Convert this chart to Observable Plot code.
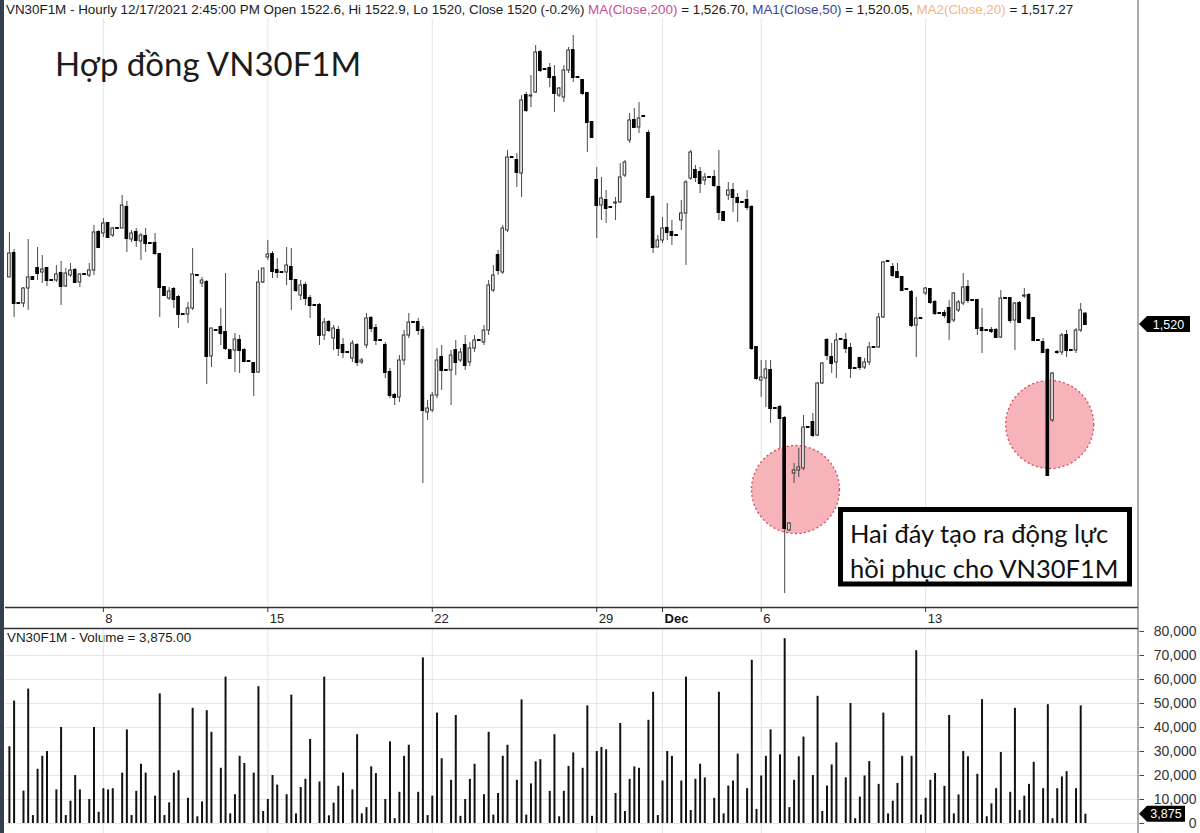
<!DOCTYPE html>
<html>
<head>
<meta charset="utf-8">
<script src="https://cdn.jsdelivr.net/npm/d3@7"></script>
<script src="https://cdn.jsdelivr.net/npm/@observablehq/plot@0.6"></script>
<style>
  html, body { margin: 0; padding: 0; background: #fff; }
  #chart { position: relative; width: 1200px; height: 833px; overflow: hidden; background: #fff;
           font-family: "Liberation Sans", Arial, sans-serif; color: #1a1a1a; }
  #chart > * { position: absolute; }
  #edge { left: 0; top: 0; width: 4px; height: 833px; background: #34404e; }
  #header { left: 6px; top: 1px; font-size: 13.4px; line-height: 17px; white-space: nowrap; }
  #volLabel { left: 7px; top: 630px; font-size: 13.4px; line-height: 16px; white-space: nowrap; }
  svg { overflow: visible; }
</style>
</head>
<body>
<div id="chart">
  <div id="header">VN30F1M - Hourly 12/17/2021 2:45:00 PM Open 1522.6, Hi 1522.9, Lo 1520, Close 1520 (-0.2%) <span style="color:#cc4b97">MA(Close,200)</span> = 1,526.70, <span style="color:#3b3f98">MA1(Close,50)</span> = 1,520.05, <span style="color:#f3b585">MA2(Close,20)</span> = 1,517.27</div>
  <div id="volLabel">VN30F1M - Volume = 3,875.00</div>
</div>
<script>
// Hourly bars, Nov 3 – Dec 17 2021; 7 hourly slots per trading day (12h slot has no trades)
const open = [1531.75,1537.75,1525.25,1525.25,1529,1531.75,1534,1533,1534,1531,1531,1532.75,1529.5,1532.25,1533.5,1530.5,1532.5,1532.25,1533.5,1543,
1542.75,1545.25,1542.25,1544,1544,1549.25,1541.25,1543,1540.75,1542,1540.25,1540.25,1537.5,1529.25,1526.5,1528.75,1526.75,1522.5,1522.5,1524,
1532.25,1530.25,1530.5,1512,1518.5,1519.25,1518,1513.5,1513.5,1516,1513.5,1510.75,1510.25,1508,1530.5,1536.75,1537.5,1533.5,1533,1533,
1534.25,1531,1527.25,1529.75,1526.5,1524.75,1524.75,1517.25,1520.5,1516.5,1518.5,1514.75,1513,1511.5,1514.75,1510.5,1514.75,1521.5,1519,1516,
1514.75,1508,1502.25,1501.75,1511,1517.25,1520.5,1520.5,1518.5,1498,1498.5,1502.25,1511.75,1508.5,1508.5,1513.5,1511,1514.75,1510.5,1514,
1516,1515.5,1518.5,1528.5,1537.25,1533,1543.5,1561.75,1561,1557.75,1577.25,1577,1578,1588,1583.75,1584,1581.75,1577.25,1576.75,1583.5,
1588.5,1581.75,1581,1577.75,1570.5,1556,1549.75,1551,1549.25,1550.25,1550.5,1557.25,1566,1571,1569.25,1572,1567.75,1551.75,1539.25,1541,
1544,1543,1542.25,1546,1547.75,1556.5,1558.5,1558,1556,1556.75,1556.75,1554.25,1548,1552.25,1553.5,1551.5,1550.5,1551,1549.25,1514.25,
1506,1506.5,1508.5,1499,1499.25,1496.5,1468.5,1482.75,1483.5,1484,1494.25,1495.5,1492.25,1505.25,1516,1511.75,1510.5,1516.25,1516,1514,
1509,1511.5,1509.25,1510.5,1514.25,1514.25,1521.75,1535.75,1534.25,1533,1531.75,1528.75,1528,1519.75,1521.5,1527.75,1528.75,1525.5,1522.75,1522.75,
1524,1521,1523.5,1525.25,1529.25,1526,1526,1519,1518.5,1518.5,1518.5,1516.75,1526.5,1526.5,1521,1525.25,1527,1527.25,1521.5,1516,
1515.5,1513.5,1496,1513,1513,1517.25,1513.5,1513.5,1518.5,1522.6];
const high = [1543,1538.75,1525.25,1529.25,1541.25,1532,1539.25,1537.25,1534.25,1531,1534.75,1535.75,1534,1535.25,1534,1532.75,1532.5,1535.25,1544.75,1543.5,
1546.5,1545.5,1544.25,1544,1552.25,1550.75,1543.5,1544,1542.75,1544,1540.25,1542.75,1537.5,1529.25,1529.25,1529.25,1527.25,1522.5,1525.5,1539,
1532.5,1531.75,1531,1519,1518.5,1524,1532.75,1513.5,1517.75,1517.25,1514,1510.75,1510.25,1533.5,1534,1541,1538.25,1536.5,1533,1539.25,
1539,1531.25,1531,1530.5,1527.25,1524.75,1525.25,1521.5,1521,1519.75,1519.5,1516.5,1513,1516,1515.25,1511.5,1522.75,1522,1520,1516,
1515.5,1509,1502.75,1512.25,1518.5,1522.75,1520.5,1521.5,1519.5,1501,1503,1514,1514.75,1508.5,1513.5,1516,1514,1517.25,1515.5,1517.25,
1516,1519.75,1531,1534.75,1538.5,1544.75,1563.5,1561.75,1562.75,1577.25,1578,1582.25,1589.75,1588.5,1583.75,1585.25,1584.75,1579.25,1584.75,1589.25,
1592.25,1581.75,1581,1577.75,1570.5,1559.25,1556.75,1553.5,1549.25,1551.75,1560.25,1561,1572.75,1574,1575.5,1572,1568.5,1552.25,1542.25,1546.75,
1550.25,1546,1542.25,1551,1556,1563.5,1559.75,1559.25,1557.75,1556.75,1558.5,1563.5,1548,1555.5,1555.25,1552.75,1550.5,1553.5,1549.75,1514.25,
1511,1511,1511,1499,1499.75,1497,1470.5,1485.25,1489,1497.25,1494.25,1497.75,1505.5,1510.5,1516.5,1515.25,1517.75,1516.25,1517.75,1515.25,
1509,1511.75,1511.5,1515.5,1514.25,1522.75,1535.75,1535.75,1535.25,1535.25,1532,1528.75,1528.5,1526.75,1521.5,1529.25,1529,1526,1522.75,1523.5,
1526,1528,1526,1532.75,1531,1526,1526,1524,1518.75,1519.25,1519,1528.5,1526.5,1526.75,1525.5,1525.75,1529,1527.75,1521.75,1516,
1516.5,1514,1508,1513.5,1517.75,1518.5,1513.5,1519,1525.25,1522.9];
const low = [1531.75,1521.75,1525.25,1524.25,1523.5,1531,1531,1530.25,1529.5,1531,1530.5,1524.75,1529.25,1531.75,1530.25,1529.25,1532.5,1531.75,1532.25,1539.25,
1541.75,1541.75,1541.75,1544,1544,1538,1540.5,1539.25,1536,1538,1540.25,1537.25,1521.75,1527,1526,1524,1519,1522.5,1520.25,1523.5,
1532,1529.25,1505,1509.25,1518.5,1514.75,1513.5,1511.5,1508,1507.75,1510.5,1510.75,1502,1507.75,1530.25,1536,1531.5,1531.5,1533,1529.75,
1523.5,1528,1526,1524.75,1521.5,1524.75,1514.75,1516,1518,1513.5,1512,1511.5,1513,1510.5,1509.5,1510,1514,1518,1514.75,1516,
1506.5,1501.5,1499.75,1500.5,1509.75,1516.5,1520.5,1517.25,1480.25,1496,1498,1501.5,1503.5,1508.5,1499.75,1507.25,1510.5,1508.5,1509.5,1513,
1516,1514.75,1517.25,1528,1532.25,1532.5,1543,1561.75,1554.25,1551.75,1573,1574.25,1577.75,1583,1583.75,1579.25,1573,1576.75,1575.5,1582.75,
1580.5,1581.75,1577.25,1563,1566.5,1541.5,1546,1545.25,1549.25,1546,1550.25,1556.75,1565.25,1569,1567.75,1572,1551.5,1537.75,1539.25,1540.25,
1541,1539.75,1542.25,1543.5,1534.75,1556,1555.5,1552.75,1554.75,1556.75,1554.25,1546,1545.75,1551,1548,1545.5,1550.5,1548.5,1513.5,1506,
1501.75,1499.25,1495.25,1499,1489,1452.75,1468.25,1480.25,1481.75,1483.5,1494.25,1491.75,1492,1505,1511,1507.75,1506.5,1516.25,1512.75,1506.5,
1509,1508.5,1508.75,1509.75,1514.25,1514,1521.5,1535.75,1531.75,1531.5,1528.25,1528.75,1519.25,1511.75,1521.5,1527.25,1525,1522.25,1522.75,1521.5,
1516,1520.5,1523,1524.75,1525.25,1526,1517.25,1512.75,1518.25,1517.75,1516.5,1516.5,1526.5,1520.25,1513.5,1520.25,1526.5,1521,1515.75,1516,
1512.75,1482.25,1495.5,1512.5,1512.25,1511.75,1513.5,1512.75,1518,1520];
const close = [1537.75,1525.25,1525.25,1529,1531.75,1531.25,1532.75,1533.75,1531,1531,1532.5,1529.5,1532.75,1533.5,1530.5,1532.5,1532.5,1533.5,1543,1539.25,
1545.25,1541.75,1544,1544,1549.75,1541.5,1542.75,1541,1542.25,1540.25,1540.25,1537.75,1529.25,1527.25,1528.25,1526.25,1522.5,1522.5,1524,1532.5,
1532.25,1531,1512,1519,1518.5,1517.75,1514,1511.5,1516.25,1513.5,1510.75,1510.75,1508,1530.5,1534,1537.5,1533.25,1533,1533,1534.75,
1531.25,1528.5,1529.75,1526.5,1524.75,1524.75,1517.25,1520.5,1518.5,1519,1514,1513,1513,1515.25,1510.5,1511,1521.5,1519,1516,1516,
1508,1502.25,1501.75,1511,1517.25,1520.5,1520.5,1518.5,1498.5,1499,1502.25,1511,1508.5,1508.5,1512.25,1510.5,1513,1509.75,1514,1516,
1516,1518.5,1529.75,1532.25,1533.5,1544,1561.75,1561.75,1558,1576,1573.5,1577.25,1588,1583.5,1583.75,1581.75,1577.75,1579,1583.5,1588.5,
1581.75,1581.75,1577.75,1570.5,1566.75,1549.75,1551.5,1549,1549.25,1550.5,1556.75,1560.5,1571,1569.25,1571.5,1572,1551.75,1539.25,1541,1544,
1543,1542.25,1542.25,1547.75,1555.5,1563,1556.75,1555.25,1556.75,1556.75,1554.75,1548,1546,1553.5,1551.75,1550.5,1550.5,1549.25,1514,1506.5,
1506.75,1508.75,1499,1499,1496.5,1469,1470.25,1483.5,1484.25,1494.25,1494.25,1492.25,1505.25,1510.25,1512.25,1510.25,1516,1516.25,1514,1509,
1509,1509.25,1510.5,1514.25,1514.25,1521.75,1535.5,1535.75,1532.25,1531.75,1528.5,1528.75,1519.75,1521.5,1521.5,1529,1525.5,1522.75,1522.75,1522.25,
1520.5,1527.75,1525.5,1529.25,1526,1526,1519,1518.5,1518.5,1518.25,1516.75,1526.5,1526.5,1521,1525.25,1520.5,1527.25,1521.5,1516,1516,
1513,1482.25,1507.75,1513,1517.25,1513.5,1513.5,1518.5,1523.5,1520];
const volume = [32000,51000,0,13500,56000,3300,22600,28000,30000,0,14000,40000,3300,9300,20000,14000,0,10000,40000,4700,
14500,14000,14500,0,21000,39000,3300,13400,24700,21000,0,11400,54000,3300,8600,21000,22000,0,10500,48000,
2800,9000,47000,38000,0,23000,61000,4000,12000,28000,25000,0,21000,57000,5000,10000,20000,16000,0,12000,
53500,4000,15000,18400,35000,0,17300,61000,3200,8500,15500,21000,0,14000,37000,4000,6600,23600,20800,0,
10000,34000,2000,13000,28000,32600,0,13000,69000,3300,11400,46000,27000,0,18000,45000,3000,10000,18400,24700,
0,12000,38000,3500,12500,28000,32600,0,18000,51500,3500,16500,25700,26600,0,13400,37000,2800,13400,23800,
29400,0,23000,49000,3000,30000,31700,30700,0,12500,41700,5000,18400,23600,23000,0,43000,54700,3300,17700,
30000,28000,0,17700,61000,5400,18400,24700,19000,0,10500,54700,4000,15600,17700,28900,0,14500,68000,5900,
19800,28000,39000,0,28600,77000,6600,18000,27800,36000,0,20000,53000,5000,15600,24400,33600,0,19000,50000,
2000,11000,19800,25800,0,16300,46000,4000,9300,16700,28000,0,28000,72000,3500,10500,18000,20800,0,15500,
45000,4000,11900,30000,27800,0,20500,51600,2800,8200,14500,29600,0,13000,48000,5400,11400,16300,25500,0,
14500,49500,2000,14500,19400,21600,0,14500,49000,3875];
const dayTickSlots = [21, 56, 91, 126, 140, 161, 196];
const dayTickLabels = ["8", "15", "22", "29", "Dec", "6", "13"];
const volumeTicks = [0, 10000, 20000, 30000, 40000, 50000, 60000, 70000, 80000];
const bottomZoneSlots = [168.3, 222.4];
const bottomZonePrices = [1478.75, 1495];
const lastClose = 1520;
const lastVolume = 3875;
const titleText = "Hợp đồng VN30F1M";
const noteLines = ["Hai đáy tạo ra động lực", "hồi phục cho VN30F1M"];

// ---- build tables ----
const bars = open.map((o, i) => ({slot: i + 1, open: o, high: high[i], low: low[i], close: close[i], volume: volume[i]}));
const upBars = bars.filter(d => d.close > d.open);
const downBars = bars.filter(d => d.close <= d.open);
const ticks = dayTickSlots.map((slot, i) => ({slot, label: dayTickLabels[i]}));
const zones = bottomZoneSlots.map((slot, i) => ({slot, price: bottomZonePrices[i]}));

const xDomain = [0.17, 241.3];
const yDomain = [1449.25, 1596.5];
const vDomain = [-4167, 80833];
const half = 0.28;
const baseStyle = {background: "none", overflow: "visible", fontFamily: "Liberation Sans, Arial, sans-serif"};

const price = Plot.plot({
  width: 1200, height: 611, marginTop: 0, marginBottom: 22, marginLeft: 5, marginRight: 62,
  x: {domain: xDomain, axis: null},
  y: {domain: yDomain, axis: null},
  style: baseStyle,
  marks: [
    Plot.ruleX(dayTickSlots, {stroke: "#e4e4e4"}),
    Plot.dot(zones, {x: "slot", y: "price", r: 44, fill: "#f6b3b9", stroke: "#d64b5c", strokeWidth: 1.3, strokeDasharray: "2,2.5"}),
    Plot.ruleX(bars, {x: "slot", y1: "low", y2: "high", stroke: "#4a4a4a", strokeWidth: 1}),
    Plot.rect(upBars, {x1: d => d.slot - half, x2: d => d.slot + half, y1: "open", y2: "close", fill: "#f3f3f3", stroke: "#333", strokeWidth: 1}),
    Plot.rect(downBars, {x1: d => d.slot - half, x2: d => d.slot + half, y1: "open", y2: "close", fill: "#000", stroke: "#000", strokeWidth: 1, insetTop: -0.5, insetBottom: -0.5}),
    Plot.ruleY([yDomain[0]], {stroke: "#333", strokeWidth: 1.5}),
    Plot.ruleX(dayTickSlots, {y1: yDomain[0], y2: yDomain[0] - 1.25, stroke: "#333"}),
    Plot.text(ticks.filter(d => d.label !== "Dec"), {x: "slot", y: yDomain[0], text: "label", dx: 2, dy: 11, textAnchor: "start", fontSize: 13, fill: "#222"}),
    Plot.text(ticks.filter(d => d.label === "Dec"), {x: "slot", y: yDomain[0], text: "label", dx: 2, dy: 11, textAnchor: "start", fontSize: 13, fontWeight: "bold", fill: "#111"})
  ]
});

const vol = Plot.plot({
  width: 1200, height: 204, marginTop: 0, marginBottom: 0, marginLeft: 5, marginRight: 62,
  x: {domain: xDomain, axis: null},
  y: {domain: vDomain, axis: null},
  style: baseStyle,
  marks: [
    Plot.ruleY(volumeTicks.slice(0, -1), {stroke: "#e6e6e6"}),
    Plot.ruleX(dayTickSlots, {stroke: "#e4e4e4"}),
    Plot.ruleX(bars.filter(d => d.volume > 0), {x: "slot", y1: 0, y2: "volume", stroke: "#111", strokeWidth: 2}),
    Plot.ruleY(volumeTicks, {x1: xDomain[1] + 0.3, x2: xDomain[1] + 1.3, stroke: "#444"}),
    Plot.text(volumeTicks, {y: d => d, text: d => d3.format(",")(d), frameAnchor: "right", dx: 58, textAnchor: "end", fontSize: 14, fill: "#333"})
  ]
});

const chart = document.getElementById("chart");
price.style.left = "0px"; price.style.top = "18px";
vol.style.left = "0px"; vol.style.top = "629px";
chart.appendChild(price);
chart.appendChild(vol);
const edge = document.createElement("div"); edge.id = "edge"; chart.appendChild(edge);

// ---- overlay: separators, price/volume markers, title, note ----
const xr = price.scale("x").apply(xDomain[1]);
const ov = d3.select(chart).append("svg").attr("width", 1200).attr("height", 833)
  .style("left", "0px").style("top", "0px");
ov.append("line").attr("x1", xr).attr("x2", xr).attr("y1", 0).attr("y2", 833).attr("stroke", "#555").attr("stroke-width", 1);
ov.append("line").attr("x1", 4).attr("x2", xr).attr("y1", 628.5).attr("y2", 628.5).attr("stroke", "#333").attr("stroke-width", 1.5);

function marker(yPix, label, w) {
  const g = ov.append("g");
  g.append("path")
    .attr("d", `M${xr + 1},${yPix} L${xr + 9},${yPix - 8} L${xr + w},${yPix - 8} L${xr + w},${yPix + 8} L${xr + 9},${yPix + 8} Z`)
    .attr("fill", "#000");
  g.append("text").attr("x", xr + 9 + (w - 9) / 2).attr("y", yPix + 4.5).attr("text-anchor", "middle")
    .attr("fill", "#fff").attr("font-family", "Liberation Sans, Arial, sans-serif").attr("font-size", 12.5).text(label);
}
marker(18 + price.scale("y").apply(lastClose), d3.format(",")(lastClose), 52);
marker(629 + vol.scale("y").apply(lastVolume), d3.format(",")(lastVolume), 47);

ov.append("text").attr("x", 55).attr("y", 76).attr("font-family", "Lato, 'Open Sans', sans-serif")
  .attr("font-size", 33).attr("fill", "#1c1c1c").text(titleText);

ov.append("rect").attr("x", 840.5).attr("y", 509.5).attr("width", 289).attr("height", 74.5)
  .attr("fill", "#fff").attr("stroke", "#000").attr("stroke-width", 5);
noteLines.forEach((t, i) => {
  ov.append("text").attr("x", 850).attr("y", 543 + i * 35).attr("font-family", "Lato, 'Open Sans', sans-serif")
    .attr("font-size", 25.5).attr("fill", "#111").text(t);
});
</script>
</body>
</html>
